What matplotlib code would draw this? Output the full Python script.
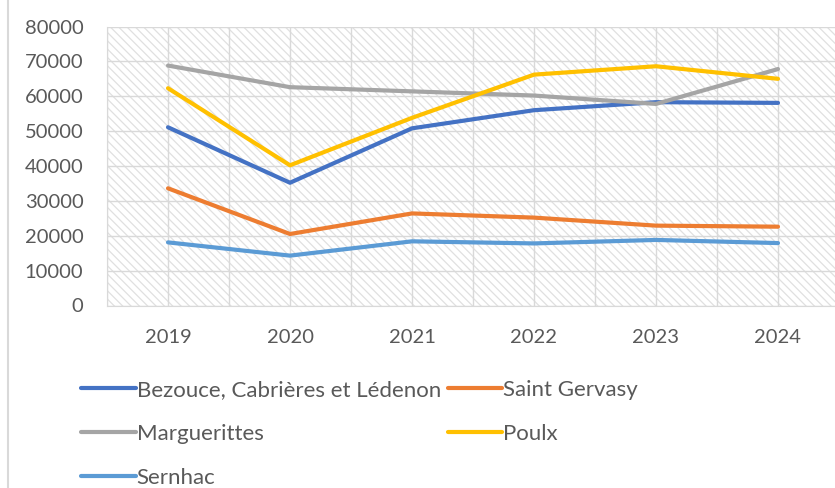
import matplotlib
matplotlib.use("Agg")
import matplotlib.pyplot as plt
from matplotlib.lines import Line2D
from matplotlib.patches import Rectangle

plt.rcParams["font.family"] = ["Lato", "DejaVu Sans"]
plt.rcParams["hatch.color"] = "#e0e0e0"
plt.rcParams["hatch.linewidth"] = 0.9

# ---------- data ----------
years = ["2019", "2020", "2021", "2022", "2023", "2024"]
bezouce = [51100, 35200, 50800, 56000, 58300, 58100]
saint_gervasy = [33600, 20500, 26400, 25200, 22900, 22600]
marguerittes = [68800, 62600, 61400, 60200, 57800, 67800]
poulx = [62300, 40200, 53800, 66200, 68600, 65000]
sernhac = [18100, 14300, 18400, 17800, 18800, 17900]

series = [
    ("Bezouce, Cabrières et Lédenon", bezouce, "#4472C4"),
    ("Saint Gervasy", saint_gervasy, "#ED7D31"),
    ("Marguerittes", marguerittes, "#A5A5A5"),
    ("Poulx", poulx, "#FFC000"),
    ("Sernhac", sernhac, "#5B9BD5"),
]

TXT = "#595959"
GRID = "#d9d9d9"

fig = plt.figure(figsize=(8.35, 4.88), dpi=100)
W, H = 835, 488
ax = fig.add_axes([107 / W, 1 - 305.5 / H, (839 - 107) / W, (305.5 - 26.5) / H])

# hatched plot background
ax.add_patch(Rectangle((0, 0), 1, 1, transform=ax.transAxes, facecolor="white",
                       edgecolor="#e0e0e0", hatch="\\\\\\\\", lw=0, zorder=0))

x = range(len(years))
handles = {}
for name, vals, col in series:
    ln, = ax.plot(x, vals, color=col, lw=3, label=name, solid_capstyle="round", zorder=3)
    handles[name] = ln

ax.set_xlim(-0.5, 5.5)
ax.set_ylim(0, 80000)
ax.set_yticks(range(0, 80001, 10000))
ax.set_xticks(list(x))
ax.set_xticklabels(years)
ax.set_xticks([i + 0.5 for i in range(-1, 6)], minor=True)
ax.grid(True, which="both", color=GRID, lw=1, zorder=1)
ax.set_axisbelow(True)
ax.tick_params(axis="both", which="both", length=0, colors=TXT, labelsize=14.5)
ax.tick_params(axis="y", pad=17)
ax.tick_params(axis="x", pad=17)
for s in ["top", "right"]:
    ax.spines[s].set_visible(False)
for s in ["left", "bottom"]:
    ax.spines[s].set_color(GRID)

# legend filled row by row like the original: reorder for column-wise fill
order = ["Bezouce, Cabrières et Lédenon", "Marguerittes", "Sernhac",
         "Saint Gervasy", "Poulx"]
fig.legend([handles[n] for n in order], order,
           loc="upper left", bbox_to_anchor=(70 / W, 1 - 369 / H), ncol=2,
           frameon=False, fontsize=16, handlelength=2.45, handletextpad=0.05,
           columnspacing=0.3, labelspacing=1.08, borderpad=0, labelcolor=TXT)

# chart area border on the left
fig.add_artist(Line2D([7.5 / W, 7.5 / W], [0, 1], color=GRID, lw=1.5,
                      transform=fig.transFigure))

fig.savefig("out.png", dpi=100)
